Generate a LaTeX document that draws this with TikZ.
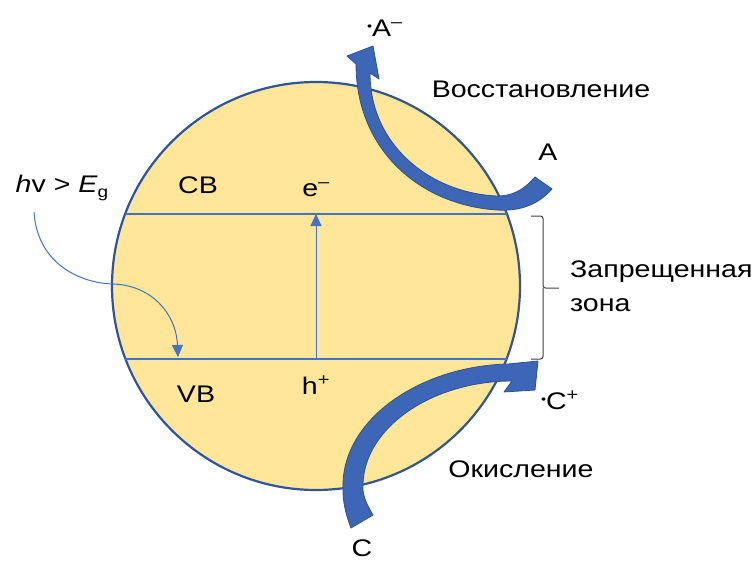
\documentclass[tikz,border=0pt]{standalone}
\usepackage{fontspec}
\setmainfont[FakeStretch=1.19]{Liberation Sans}
\usetikzlibrary{arrows.meta}
\definecolor{fillY}{HTML}{FFE699}
\definecolor{edgeB}{HTML}{2F5597}
\definecolor{lineB}{HTML}{4472C4}
\definecolor{arrB}{HTML}{3E66B6}
\definecolor{arrE}{HTML}{2F528F}
\definecolor{braceC}{HTML}{404040}
\begin{document}
\begin{tikzpicture}[x=1pt,y=-1pt,
  lbl/.style={font=\fontsize{24}{28}\selectfont, inner sep=0pt, text=black},
  band/.style={lineB, line width=1.2pt},
  blockarrow/.style={fill=arrB, draw=arrE, line width=0.8pt, line join=round},
  thinarrow/.style={lineB, line width=1pt, -{Triangle[length=12pt,width=11pt]}},
  bracket/.style={draw=braceC, line width=1pt, rounded corners=2.5pt}]
\useasboundingbox (0,0) rectangle (755,562);

% particle
\node[circle, draw=edgeB, fill=fillY, line width=2.2pt, minimum size=408pt, inner sep=0pt] (ball) at (316,286) {};

% band edges
\coordinate (cbL) at (125.1,214);
\coordinate (cbR) at (506.9,214);
\coordinate (vbL) at (125.1,359);
\coordinate (vbR) at (506.9,359);
\coordinate (cbM) at (316,214);
\coordinate (vbM) at (316,359);
\draw[band] (cbL) -- (cbR);
\draw[band] (vbL) -- (vbR);
\draw[thinarrow] (vbM) -- (cbM);

% reduction arrow (A -> .A-)
\filldraw[blockarrow] (552,189) .. controls (535,208) and (515,211) .. (497,210)
  .. controls (420,205) and (356,150) .. (356,64)
  -- (347,56) -- (373,46) -- (379,79) -- (370,73)
  .. controls (370,145) and (430,193) .. (497,196)
  .. controls (510,196) and (522,192) .. (535,177) -- cycle;

% oxidation arrow (C -> .C+)
\filldraw[blockarrow] (351,528) .. controls (346,515) and (343,503) .. (343,490)
  .. controls (340,420) and (420,366) .. (508,364)
  -- (538,361) -- (535,390) -- (504,392) -- (512,381)
  .. controls (430,381) and (360,430) .. (363,490)
  .. controls (364,500) and (369,508) .. (373,515) -- cycle;

% labels
\node[lbl] (aminus) at (385,28) {\raisebox{0.45ex}{\fontsize{12}{12}\selectfont•}A\textsuperscript{–}};
\node[lbl] (reduct) at (541,89) {Восстановление};
\node[lbl] (aa) at (548,152) {A};
\node[lbl] (cb) at (198,185) {CB};
\node[lbl] (eminus) at (316,190) {e\textsuperscript{–}};
\node[lbl] (vb) at (196,394) {VB};
\node[lbl] (hplus) at (316,385) {h\textsuperscript{+}};
\node[lbl] (hv) at (62,188) {\textit{h}v > \textit{E}\raisebox{-0.35ex}{\fontsize{16}{16}\selectfont g}};
\node[lbl, anchor=west] (gap1) at (570,272) {Запрещенная};
\node[lbl, anchor=west] (gap2) at (570,305) {зона};
\node[lbl] (cplus) at (560,400) {\raisebox{0.45ex}{\fontsize{12}{12}\selectfont•}C\textsuperscript{+}};
\node[lbl] (oxid) at (521,469) {Окисление};
\node[lbl] (cc) at (362,548) {C};

% photon arrow
\coordinate (hvS) at (34,212);
\coordinate (hvT) at (178,357);
\draw[thinarrow] (hvS) .. controls (37,262) and (78,283) .. (113,284) .. controls (150,285) and (176,312) .. (hvT);

% bracket
\coordinate (brT) at (531,216);
\coordinate (brB) at (531,359);
\coordinate (brTip) at (559,288);
\draw[bracket] (brT) -- (543,216) -- (543,288) -- (brTip);
\draw[bracket] (brB) -- (543,359) -- (543,288);
\end{tikzpicture}
\end{document}
